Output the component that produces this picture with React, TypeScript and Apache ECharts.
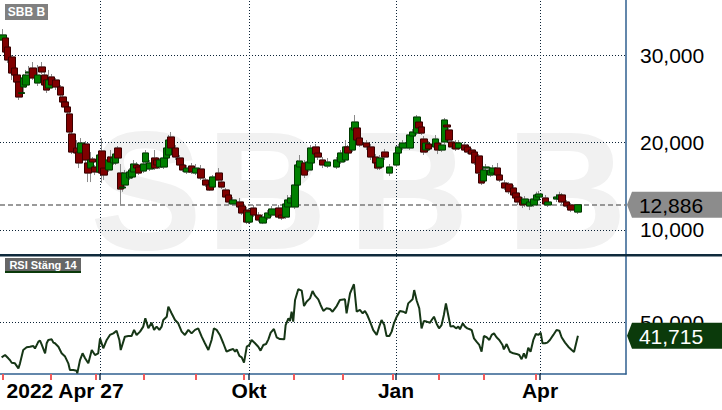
import React, { useEffect, useRef } from 'react';
import * as echarts from 'echarts';

// [tradingDay, open, close, low, high] in SEK
const candles: number[][] = [
  [0, 31.71, 32.29, 31.49, 32.97], [1, 31.94, 30.34, 30.11, 32.17], [2, 30.91, 29.43, 29.09, 31.26],
  [4, 29.77, 27.94, 27.14, 30.0], [5, 28.51, 27.71, 27.49, 28.74], [6, 27.71, 26.91, 26.69, 27.94],
  [7, 26.91, 25.2, 24.86, 27.14], [8, 25.6, 25.7, 25.2, 26.0], [9, 26.34, 27.37, 25.77, 27.83],
  [10, 26.57, 27.71, 26.23, 28.29], [11, 27.94, 28.06, 27.6, 28.74], [13, 28.51, 27.37, 27.14, 29.2],
  [15, 26.8, 27.71, 26.46, 28.86], [17, 28.63, 28.06, 27.83, 29.2], [18, 27.71, 26.57, 26.23, 28.06],
  [19, 27.14, 26.0, 25.66, 27.37], [20, 26.23, 27.14, 25.89, 28.29], [21, 27.49, 26.57, 26.34, 27.83],
  [23, 27.14, 26.34, 26.0, 27.37], [25, 26.34, 25.43, 25.09, 26.57], [26, 25.2, 24.63, 24.4, 25.43],
  [27, 24.63, 24.06, 23.83, 24.86], [28, 24.06, 23.48, 23.26, 24.29], [29, 23.26, 21.2, 20.97, 23.48],
  [30, 20.97, 18.91, 18.68, 21.2], [32, 19.37, 18.8, 18.46, 20.28], [33, 18.91, 17.66, 17.08, 19.14],
  [34, 18.8, 19.94, 18.46, 20.51], [36, 19.83, 18.0, 17.66, 20.17], [37, 17.66, 16.51, 15.48, 18.0],
  [38, 17.08, 18.0, 15.48, 18.91], [39, 18.11, 17.77, 17.43, 18.34], [40, 17.2, 16.63, 16.28, 17.43],
  [42, 16.63, 18.57, 16.4, 19.14], [43, 19.03, 16.51, 15.37, 20.51], [44, 17.08, 16.28, 15.71, 17.43],
  [46, 16.86, 18.0, 16.63, 18.46], [47, 18.34, 17.77, 17.54, 19.14], [48, 17.66, 18.23, 17.43, 18.57],
  [49, 17.66, 18.68, 17.43, 19.14], [50, 19.37, 18.23, 18.0, 19.6], [51, 16.51, 14.68, 12.86, 17.54],
  [52, 14.8, 14.91, 14.37, 15.14], [53, 15.14, 16.51, 14.8, 16.86], [55, 15.94, 16.63, 15.71, 17.08],
  [56, 16.06, 16.86, 15.83, 17.43], [57, 16.63, 17.54, 16.4, 18.0], [58, 17.43, 17.08, 16.86, 17.77],
  [59, 17.2, 16.51, 16.28, 17.54], [61, 16.74, 17.54, 16.51, 18.0], [62, 17.77, 18.8, 17.54, 19.14],
  [64, 16.97, 17.66, 16.74, 18.0], [66, 18.23, 17.08, 16.86, 19.14], [67, 18.0, 17.43, 17.2, 18.34],
  [68, 17.2, 18.0, 16.97, 18.23], [70, 17.2, 18.23, 16.97, 18.57], [71, 18.23, 19.37, 18.0, 19.71],
  [72, 18.57, 20.28, 18.34, 20.86], [73, 20.63, 19.37, 19.14, 21.2], [75, 19.37, 18.34, 18.0, 19.71],
  [77, 18.23, 17.43, 17.2, 18.57], [78, 17.43, 16.86, 16.63, 17.77], [80, 16.63, 17.08, 16.4, 17.43],
  [82, 17.31, 16.63, 16.4, 17.66], [84, 16.51, 17.08, 16.28, 17.54], [86, 16.97, 15.94, 15.71, 17.43],
  [88, 15.71, 15.14, 14.91, 15.94], [90, 15.14, 14.57, 14.46, 15.48], [91, 14.91, 16.06, 14.68, 16.28],
  [94, 16.51, 15.71, 15.48, 17.08], [95, 15.48, 14.91, 14.68, 15.94], [97, 14.57, 13.77, 13.54, 14.8],
  [98, 14.0, 13.2, 12.86, 14.37], [100, 12.97, 13.43, 12.74, 13.77], [103, 13.2, 12.63, 12.4, 13.66],
  [104, 12.74, 11.94, 11.71, 13.08], [106, 12.28, 10.91, 10.68, 12.63], [107, 10.91, 12.05, 10.68, 12.51],
  [109, 12.51, 11.71, 11.48, 12.86], [111, 11.71, 11.14, 10.91, 12.05], [113, 10.8, 11.48, 10.68, 11.83],
  [115, 11.37, 11.94, 11.14, 12.28], [117, 11.71, 12.4, 11.48, 12.74], [120, 12.51, 11.48, 11.26, 12.86],
  [121, 11.71, 11.37, 11.14, 12.05], [123, 11.48, 12.97, 11.26, 13.43], [124, 12.63, 13.43, 12.4, 14.0],
  [125, 13.08, 13.66, 12.86, 14.0], [127, 12.63, 15.14, 12.4, 15.37], [128, 15.14, 17.43, 14.91, 18.0],
  [129, 17.2, 17.88, 16.86, 18.57], [131, 17.66, 16.28, 15.94, 18.0], [133, 16.86, 17.77, 16.63, 18.23],
  [134, 17.66, 19.37, 17.43, 19.71], [136, 19.49, 18.68, 18.46, 19.83], [137, 18.8, 18.34, 18.0, 19.14],
  [139, 18.0, 17.43, 17.08, 18.34], [141, 17.31, 17.77, 17.08, 18.23], [145, 17.2, 18.0, 16.97, 18.34],
  [147, 17.77, 18.8, 17.54, 19.14], [149, 18.0, 19.49, 17.77, 20.28], [150, 19.49, 18.8, 18.46, 19.71],
  [152, 19.14, 21.66, 18.91, 22.0], [153, 21.43, 22.34, 21.2, 23.14], [154, 21.66, 20.28, 20.06, 22.11],
  [155, 20.51, 19.71, 19.49, 20.86], [158, 19.94, 19.49, 19.14, 20.28], [160, 19.49, 18.34, 18.0, 19.83],
  [162, 18.34, 17.66, 17.43, 18.68], [163, 17.66, 17.08, 16.86, 18.0], [164, 17.2, 18.23, 16.86, 18.57],
  [166, 18.91, 18.34, 18.0, 19.26], [168, 16.51, 17.2, 16.17, 17.54], [171, 17.43, 18.8, 17.2, 19.14],
  [172, 18.8, 19.49, 18.57, 19.83], [174, 19.37, 19.94, 19.14, 20.28], [177, 19.37, 20.86, 19.14, 21.2],
  [178, 20.74, 21.2, 20.51, 21.54], [180, 21.08, 22.91, 20.86, 23.14], [181, 22.34, 21.66, 21.43, 22.69],
  [182, 21.77, 21.08, 20.86, 22.0], [183, 20.4, 18.91, 18.57, 20.74], [184, 19.14, 19.94, 18.8, 20.28],
  [185, 19.83, 19.26, 19.03, 20.17], [188, 19.49, 20.4, 19.26, 20.86], [189, 19.94, 19.14, 18.68, 20.28],
  [191, 19.14, 19.71, 18.91, 20.06], [192, 20.06, 22.57, 19.83, 22.8], [193, 22.0, 21.77, 21.54, 22.23],
  [194, 21.43, 20.28, 20.06, 21.66], [195, 20.06, 19.49, 19.26, 20.4], [197, 19.94, 19.26, 19.03, 20.28],
  [198, 19.37, 19.94, 19.14, 20.28], [201, 19.71, 19.14, 18.91, 20.06], [202, 19.49, 18.91, 18.68, 19.83],
  [204, 19.14, 18.68, 18.46, 19.37], [205, 18.91, 17.66, 17.43, 19.14], [207, 18.46, 16.51, 16.28, 18.68],
  [208, 16.4, 15.37, 15.14, 16.63], [209, 15.6, 16.86, 15.26, 17.31], [210, 17.08, 17.2, 16.86, 17.54],
  [212, 16.28, 16.86, 16.06, 17.2], [213, 16.51, 17.08, 16.28, 17.43], [215, 17.08, 16.28, 16.06, 17.66],
  [216, 16.28, 15.71, 15.48, 16.63], [218, 15.37, 14.8, 14.57, 15.71], [220, 15.26, 14.37, 14.11, 15.48],
  [222, 14.8, 14.0, 13.77, 15.14], [223, 14.23, 13.66, 13.43, 14.57], [224, 13.77, 13.2, 12.86, 14.0],
  [226, 13.43, 12.86, 12.51, 13.77], [227, 12.97, 13.54, 12.63, 13.88], [229, 12.74, 13.2, 12.28, 13.54],
  [231, 12.86, 13.54, 12.63, 13.88], [232, 13.43, 14.0, 13.2, 14.37], [233, 13.77, 14.11, 13.54, 14.46],
  [236, 13.66, 12.97, 12.74, 14.0], [237, 12.86, 13.2, 12.63, 13.54], [241, 13.54, 13.77, 13.2, 14.11],
  [242, 13.54, 14.0, 13.31, 14.37], [243, 14.0, 13.2, 12.97, 14.23], [245, 13.2, 12.74, 12.51, 13.43],
  [247, 12.86, 12.28, 12.05, 13.08], [250, 12.05, 12.886, 11.83, 12.97],
];

// [tradingDay, RSI]
const rsi: number[][] = [
  [-0.6, 27.9], [0.9, 29.4], [2.3, 27.3], [3.0, 26.2], [3.8, 24.5], [5.2, 24.1], [6.7, 20.9], [7.4, 24.1],
  [8.8, 32.6], [10.3, 34.3], [11.7, 34.7], [13.2, 35.2], [13.9, 33.5], [15.4, 37.9], [16.1, 38.6], [16.8, 36.2],
  [18.3, 30.5], [19.0, 36.9], [19.7, 39.0], [21.2, 39.4], [21.9, 37.3], [22.6, 36.9], [24.1, 34.7], [25.5, 30.5],
  [27.0, 28.4], [28.4, 24.1], [29.1, 19.9], [30.6, 19.9], [32.0, 19.4], [32.3, 17.7], [33.5, 26.2], [34.6, 30.5],
  [35.7, 27.3], [37.1, 24.1], [38.6, 32.6], [40.0, 29.4], [41.4, 30.5], [42.2, 40.0], [43.6, 33.7], [45.1, 39.0],
  [46.5, 42.2], [48.0, 43.2], [49.4, 44.9], [50.6, 39.0], [51.2, 32.6], [53.0, 41.1], [54.5, 41.5], [55.9, 41.5],
  [57.0, 45.4], [58.1, 42.2], [59.6, 44.3], [61.0, 47.5], [61.9, 52.8], [63.2, 46.4], [64.6, 50.0], [65.7, 45.4],
  [66.8, 47.5], [68.0, 45.4], [69.0, 47.5], [69.7, 51.7], [71.2, 53.8], [71.9, 60.2], [73.3, 56.0], [74.8, 51.7],
  [76.2, 49.6], [77.7, 44.3], [79.1, 42.2], [80.6, 45.4], [82.0, 43.2], [83.5, 45.4], [84.9, 46.4], [86.4, 41.1],
  [87.8, 36.9], [89.3, 32.6], [90.7, 39.0], [91.7, 46.4], [92.9, 45.4], [94.3, 42.2], [95.8, 36.9], [97.2, 31.5],
  [98.7, 32.6], [100.1, 33.2], [100.9, 31.5], [101.6, 33.0], [102.8, 28.8], [103.8, 27.9], [104.8, 24.5], [106.0, 34.7],
  [107.1, 35.8], [108.1, 39.0], [109.6, 36.9], [111.0, 34.7], [112.0, 32.2], [113.2, 35.8], [114.4, 36.4], [115.4, 39.4],
  [116.4, 43.7], [117.8, 46.0], [119.0, 40.7], [120.4, 39.6], [122.3, 39.4], [122.9, 48.5], [124.1, 52.8], [124.8, 51.1],
  [125.5, 57.0], [126.2, 50.7], [127.0, 64.5], [128.4, 71.3], [129.9, 70.4], [130.9, 60.6], [132.0, 63.4], [133.5, 65.5],
  [134.6, 70.2], [135.7, 67.2], [137.1, 64.9], [138.1, 61.3], [139.3, 57.5], [140.7, 59.2], [142.2, 58.7], [143.3, 57.0],
  [145.1, 60.6], [146.5, 64.5], [148.7, 64.9], [149.4, 56.0], [150.9, 68.7], [152.6, 74.5], [153.8, 57.0], [155.2, 58.1],
  [156.4, 56.0], [157.4, 57.5], [158.4, 54.9], [159.6, 50.7], [161.0, 45.3], [162.5, 42.2], [163.6, 47.5], [164.6, 51.7],
  [165.8, 48.5], [166.8, 41.5], [168.0, 41.5], [169.0, 44.3], [170.0, 49.6], [171.2, 53.8], [172.6, 57.5], [174.1, 57.0],
  [175.2, 56.0], [176.2, 62.3], [178.1, 64.9], [178.8, 70.8], [179.9, 64.0], [181.0, 59.2], [182.0, 46.4], [183.0, 51.1],
  [184.2, 50.7], [185.7, 50.0], [186.4, 51.7], [187.4, 53.8], [188.6, 49.2], [189.6, 46.4], [190.7, 48.5], [191.7, 54.9],
  [192.6, 62.3], [193.6, 54.9], [194.6, 47.5], [195.8, 47.9], [197.0, 46.4], [198.0, 47.5], [198.7, 45.8], [199.9, 49.6],
  [200.9, 47.5], [201.9, 46.4], [203.0, 45.8], [203.8, 45.3], [204.8, 40.0], [205.9, 37.9], [207.1, 35.8], [208.1, 31.5],
  [209.1, 41.5], [210.3, 40.7], [211.5, 39.0], [212.5, 42.2], [213.5, 43.2], [214.6, 40.7], [215.8, 39.0], [217.2, 35.8],
  [217.8, 33.0], [219.0, 36.4], [220.4, 31.5], [221.9, 30.5], [223.3, 30.1], [224.5, 29.4], [225.5, 26.7], [226.5, 30.5],
  [227.4, 27.3], [228.4, 34.1], [229.4, 31.5], [230.6, 39.0], [231.7, 42.8], [232.8, 42.2], [233.8, 43.7], [234.6, 36.9],
  [235.7, 36.9], [236.7, 37.3], [237.8, 39.0], [239.3, 42.2], [240.7, 45.3], [241.9, 44.9], [242.9, 40.7], [244.4, 37.3],
  [245.8, 34.7], [247.3, 32.6], [248.3, 31.3], [250, 41.715],
];

const priceTicks = [10, 20, 30];
const rsiTicks = [50];
const quarterDays = [42.2, 107, 170.9, 233.5];
const quarterLabelDays = [27, 107, 170.9, 233.5];
const quarterLabels = ['2022 Apr 27', 'Okt', 'Jan', 'Apr'];
const monthDays = [-0.1, 20.8, 40.4, 61.3, 83.8, 104.8, 126.5, 147.7, 169.5, 189.6, 209.1, 231.8];
const lastClose = 12.886;
const lastRsi = 41.715;
const title = 'SBB B';
const rsiTitle = 'RSI Stäng 14';

const X_MIN = -1.3;
const X_MAX = 270.9;
const P_MIN = 7.257;
const P_MAX = 36.286;
const R_MIN = 17.3;
const R_MAX = 92.5;

const FONT = '"Liberation Sans", Arial, sans-serif';
const BLUE = '#2f5f8f';
const GRID = '#0b2236';
const fmt = (v: number) => v.toFixed(3).replace('.', ',');

export default function App() {
  const ref = useRef<HTMLDivElement>(null);
  useEffect(() => {
    if (!ref.current) return;
    const chart = echarts.init(ref.current, undefined, { renderer: 'svg' });
    const dotted = { color: GRID, width: 1, type: [1, 2] as any };
    const tag = 'path://M0,13L5,0L96,0L96,26L5,26Z';
    const wm = (ch: string, x: number) => ({
      type: 'text', x, y: 191, z: -20, silent: true,
      style: { text: ch, fontSize: 168, fontWeight: 'bold', fontFamily: FONT, fill: '#f1f1f1', verticalAlign: 'middle' },
    });
    chart.setOption({
      animation: false,
      backgroundColor: '#ffffff',
      textStyle: { fontFamily: FONT },
      grid: [
        { left: 0, top: 0, width: 626, height: 254, containLabel: false },
        { left: 0, top: 256, width: 626, height: 118, containLabel: false },
      ],
      xAxis: [
        { type: 'value', gridIndex: 0, min: X_MIN, max: X_MAX, show: false },
        {
          type: 'value', gridIndex: 1, min: X_MIN, max: X_MAX, position: 'bottom',
          axisLine: { show: true, onZero: false, lineStyle: { color: BLUE, width: 1.5 } },
          axisTick: { show: true, customValues: quarterDays, length: 6, lineStyle: { color: '#16324f', width: 1.5 } },
          axisLabel: {
            show: true, customValues: quarterLabelDays, margin: 6, color: '#000', fontSize: 21, fontWeight: 'bold', fontFamily: FONT,
            formatter: (v: number) => {
              let best = 0; let bd = Infinity;
              quarterLabelDays.forEach((d, i) => { const dd = Math.abs(d - v); if (dd < bd) { bd = dd; best = i; } });
              return quarterLabels[best];
            },
          },
          splitLine: { show: false },
        },
        {
          type: 'value', gridIndex: 1, min: X_MIN, max: X_MAX, position: 'bottom',
          axisLine: { show: false, onZero: false },
          axisTick: { show: true, customValues: monthDays, length: 6, lineStyle: { color: '#f25a5a', width: 2 } },
          axisLabel: { show: false },
          splitLine: { show: false },
        },
      ],
      yAxis: [
        {
          type: 'value', gridIndex: 0, min: P_MIN, max: P_MAX, position: 'right',
          axisLine: { show: true, onZero: false, lineStyle: { color: BLUE, width: 1.5 } },
          axisTick: { show: false },
          axisLabel: { customValues: priceTicks, formatter: fmt, color: '#000', fontSize: 21, margin: 14, fontFamily: FONT },
          splitLine: { show: false },
        },
        {
          type: 'value', gridIndex: 1, min: R_MIN, max: R_MAX, position: 'right',
          axisLine: { show: true, onZero: false, lineStyle: { color: BLUE, width: 1.5 } },
          axisTick: { show: false },
          axisLabel: { customValues: rsiTicks, formatter: fmt, color: '#000', fontSize: 21, margin: 14, fontFamily: FONT },
          splitLine: { show: false },
        },
      ],
      series: [
        {
          type: 'candlestick', name: 'wicks', xAxisIndex: 0, yAxisIndex: 0, barWidth: 7, clip: false,
          encode: { x: 0, y: [1, 2, 3, 4] },
          data: candles.map((c) => [c[0], c[1], c[2], c[3], c[4]]),
          itemStyle: { color: '#8a8a8a', color0: '#8a8a8a', borderColor: '#8a8a8a', borderColor0: '#8a8a8a', borderWidth: 1 },
          markLine: {
            z: 1, silent: true, symbol: ['none', 'none'], label: { show: false },
            data: [
              ...quarterDays.map((d) => ({ xAxis: d, lineStyle: dotted })),
              ...priceTicks.map((p) => ({ yAxis: p, lineStyle: dotted })),
              { yAxis: lastClose, lineStyle: { color: '#7a7a7a', width: 1.5, type: [5, 3] as any } },
            ],
          },
          markPoint: {
            z: 6, silent: true, symbol: tag, symbolSize: [96, 26], symbolKeepAspect: false, symbolOffset: [49, 0],
            itemStyle: { color: '#8c8c8c' },
            label: { show: true, position: 'inside', formatter: fmt(lastClose), color: '#000', fontSize: 21, offset: [-4, 1], fontFamily: FONT },
            data: [{ coord: [X_MAX, lastClose] }],
          },
        },
        {
          type: 'candlestick', name: 'bodies', xAxisIndex: 0, yAxisIndex: 0, barWidth: 7, clip: false,
          encode: { x: 0, y: [1, 2, 3, 4] },
          data: candles.map((c) => [c[0], c[1], c[2], Math.min(c[1], c[2]), Math.max(c[1], c[2])]),
          itemStyle: { color: '#008000', color0: '#800000', borderColor: '#003a00', borderColor0: '#3a0000', borderWidth: 1 },
        },
        {
          type: 'line', name: 'RSI', xAxisIndex: 1, yAxisIndex: 1, clip: false,
          data: rsi, showSymbol: false, symbol: 'none',
          lineStyle: { color: '#163616', width: 2 },
          markLine: {
            z: 1, silent: true, symbol: ['none', 'none'], label: { show: false },
            data: [
              ...quarterDays.map((d) => ({ xAxis: d, lineStyle: dotted })),
              ...rsiTicks.map((p) => ({ yAxis: p, lineStyle: dotted })),
            ],
          },
          markPoint: {
            z: 6, silent: true, symbol: tag, symbolSize: [96, 26], symbolKeepAspect: false, symbolOffset: [49, 0],
            itemStyle: { color: '#0b3a0b' },
            label: { show: true, position: 'inside', formatter: fmt(lastRsi), color: '#fff', fontSize: 21, offset: [-4, 1], fontFamily: FONT },
            data: [{ coord: [X_MAX, lastRsi] }],
          },
        },
      ],
      graphic: [
        wm('S', 90), wm('B', 206), wm('B', 348), wm('B', 506),
        { type: 'rect', z: -15, silent: true, shape: { x: 0, y: 256, width: 626, height: 154 }, style: { fill: '#ffffff' } },
        { type: 'rect', z: 10, silent: true, shape: { x: 0, y: 254, width: 722, height: 2.5 }, style: { fill: '#0f2a3c' } },
        { type: 'rect', z: 10, silent: true, shape: { x: 5, y: 4, width: 43, height: 16 }, style: { fill: '#808080' } },
        {
          type: 'text', z: 11, silent: true, x: 26.5, y: 12,
          style: { text: title, fill: '#ffffff', fontSize: 12, fontWeight: 'bold', fontFamily: FONT, align: 'center', verticalAlign: 'middle' },
        },
        { type: 'rect', z: 10, silent: true, shape: { x: 5, y: 258, width: 76, height: 15 }, style: { fill: '#666666' } },
        { type: 'rect', z: 10, silent: true, shape: { x: 5, y: 271, width: 76, height: 2 }, style: { fill: '#0b3a0b' } },
        {
          type: 'text', z: 11, silent: true, x: 43, y: 265,
          style: { text: rsiTitle, fill: '#ffffff', fontSize: 11, fontWeight: 'bold', fontFamily: FONT, align: 'center', verticalAlign: 'middle' },
        },
      ],
    });
    return () => chart.dispose();
  }, []);
  return <div ref={ref} style={{ position: 'fixed', left: 0, top: 0, width: 722, height: 410 }} />;
}
